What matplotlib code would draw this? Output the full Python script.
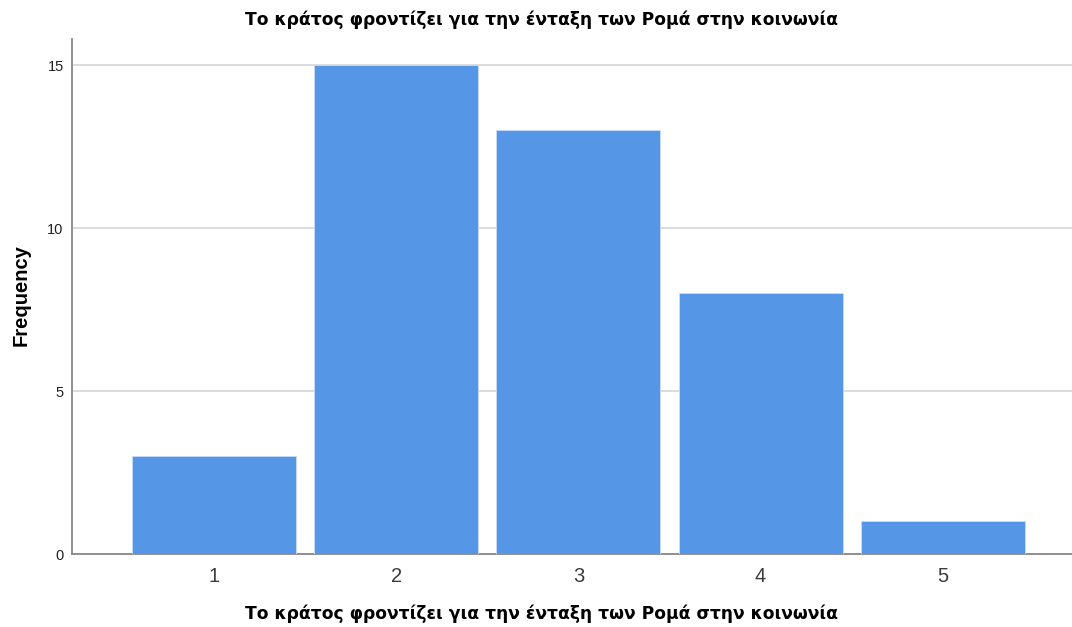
import matplotlib
matplotlib.use("Agg")
import matplotlib.pyplot as plt

plt.rcParams["font.family"] = ["Liberation Sans", "DejaVu Sans"]

categories = ["1", "2", "3", "4", "5"]
frequency = [3, 15, 13, 8, 1]
yticks = [0, 5, 10, 15]
title = "Το κράτος φροντίζει για την ένταξη των Ρομά στην κοινωνία"

fig = plt.figure(figsize=(10.72, 6.27), dpi=100)
ax = fig.add_axes([0.0672, 0.1164, 0.9328, 0.8214])

pos = list(range(1, len(categories) + 1))
ax.bar(pos, frequency, width=0.9, color="#5596E6", edgecolor="#C9DDF7",
       linewidth=0.6, zorder=3)

ax.set_xlim(0.22, 5.71)
ax.set_ylim(0, 15.8)
ax.set_xticks(pos)
ax.set_xticklabels(categories, fontsize=14.5, color="#3a3a3a")
ax.set_yticks(yticks)
ax.set_yticklabels([str(t) for t in yticks], fontsize=10.5, color="#222222")
ax.tick_params(axis="x", length=0, pad=9)
ax.tick_params(axis="y", length=0, pad=6)

ax.grid(axis="y", color="#D9D9D9", linewidth=1.3, zorder=0)
for s in ["top", "right"]:
    ax.spines[s].set_visible(False)
for s in ["left", "bottom"]:
    ax.spines[s].set_color("#888888")
    ax.spines[s].set_linewidth(1.3)

# title and x label are centred on the whole figure, in a wider font
fig.text(0.505, 0.968, title, ha="center", va="center", fontsize=12.3,
         fontweight="bold", family=["DejaVu Sans"])
fig.text(0.505, 0.021, title, ha="center", va="center", fontsize=12.3,
         fontweight="bold", family=["DejaVu Sans"])
fig.text(0.0196, 0.53, "Frequency", ha="center", va="center", rotation=90,
         fontsize=14.5, fontweight="bold")

fig.savefig("out.png", dpi=100)
